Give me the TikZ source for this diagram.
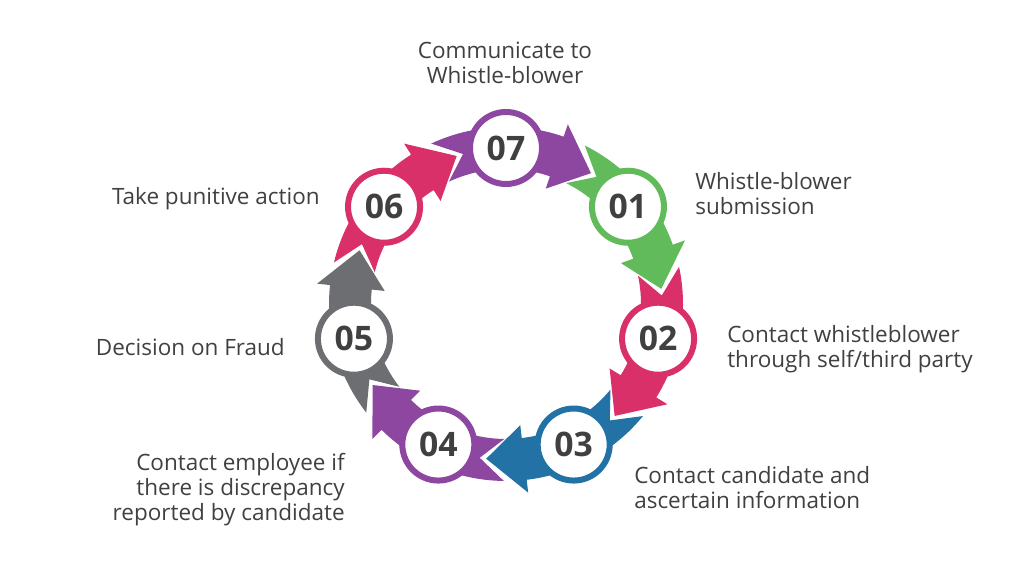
\documentclass[tikz,border=0pt]{standalone}
\usepackage{fontspec}
\setmainfont{Open Sans}
\usetikzlibrary{calc}

\definecolor{segpurple}{HTML}{8E47A0}
\definecolor{seggreen}{HTML}{62BB5B}
\definecolor{segred}{HTML}{D9306A}
\definecolor{segblue}{HTML}{2272A6}
\definecolor{seggray}{HTML}{6D6E71}
\definecolor{txtgray}{HTML}{404040}

% one arrow piece of the ring, #1 = angle of its circle, #2 = colour
\newcommand{\ringseg}[2]{%
  \fill[#2] (#1+25:177) arc[start angle=#1+25, end angle=#1-19, radius=177]
    -- (#1-19:190) -- (#1-33:156) -- (#1-19:122) -- (#1-19:135)
    arc[start angle=#1-19, end angle=#1+25, radius=135]
    -- (#1+16:156) -- cycle;}

\begin{document}
\begin{tikzpicture}[x=0.025cm,y=0.025cm,
    stepnum/.style={circle,fill=white,line width=0.15cm,minimum size=1.8cm,
      inner sep=0,text=txtgray,font=\fontsize{24}{24}\selectfont\bfseries},
    steptext/.style={inner sep=0,text=txtgray,
      font=\fontsize{16}{17.8}\selectfont}]
  \useasboundingbox (0,0) rectangle (1024,576);
  \begin{scope}[shift={(506,272)}]
    \ringseg{90}{segpurple}
    \ringseg{38.57}{seggreen}
    \ringseg{-12.86}{segred}
    \ringseg{-64.29}{segblue}
    \ringseg{-115.71}{segpurple}
    \ringseg{-167.14}{seggray}
    \ringseg{141.43}{segred}
    \node[stepnum,draw=segpurple] (S7) at (90:156) {07};
    \node[stepnum,draw=seggreen] (S1) at (38.57:156) {01};
    \node[stepnum,draw=segred] (S2) at (-12.86:156) {02};
    \node[stepnum,draw=segblue] (S3) at (-64.29:156) {03};
    \node[stepnum,draw=segpurple] (S4) at (-115.71:156) {04};
    \node[stepnum,draw=seggray] (S5) at (-167.14:156) {05};
    \node[stepnum,draw=segred] (S6) at (141.43:156) {06};
  \end{scope}
  \node[steptext,align=center] (L7) at (505,513) {Communicate to\\Whistle-blower};
  \node[steptext,align=left,anchor=west] (L1) at (695,382) {Whistle-blower\\submission};
  \node[steptext,align=left,anchor=west] (L2) at (727,226.5) {Contact whistleblower\\through self/third party};
  \node[steptext,align=left,anchor=west] (L3) at (634,88) {Contact candidate and\\ascertain information};
  \node[steptext,align=right,anchor=east] (L4) at (345,86) {Contact employee if\\there is discrepancy\\reported by candidate};
  \node[steptext,anchor=east] (L5) at (285,229) {Decision on Fraud};
  \node[steptext,anchor=east] (L6) at (320,377) {Take punitive action};
\end{tikzpicture}
\end{document}
